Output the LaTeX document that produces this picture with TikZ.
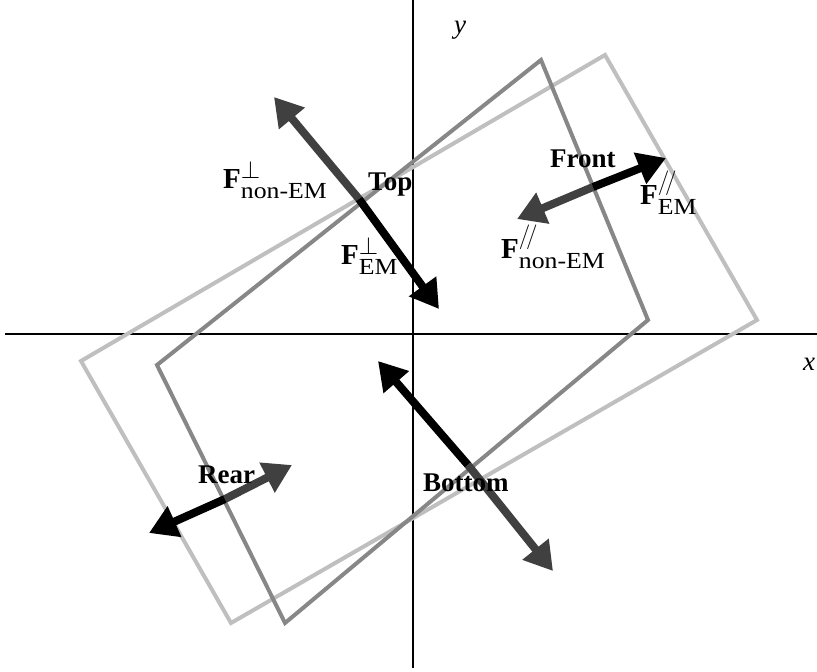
\documentclass[tikz,border=0pt]{standalone}
\usepackage{amsmath}
\usepackage{fontspec}
\setmainfont{Liberation Serif}
\newfontfamily\subfont[FakeStretch=1.12]{Liberation Serif}
\usetikzlibrary{arrows.meta}
\DeclareMathSizes{29}{29}{23}{18}

\begin{document}
\begin{tikzpicture}[x=1pt, y=-1pt,
    boxline/.style={line width=4pt, line join=miter},
    force/.style={line width=8pt, -{Triangle[length=28pt, width=32pt]}},
    part/.style={font=\fontsize{27}{30}\selectfont\bfseries, inner sep=0pt, anchor=base west},
    flabel/.style={font=\fontsize{29}{32}\selectfont, inner sep=0pt, anchor=base west}]
        \useasboundingbox (0,0) rectangle (817,672);

        % Draw axes
        \coordinate (xl) at (5,334);   \coordinate (xr) at (817,334);
        \coordinate (yb) at (413,668); \coordinate (yt) at (413,0);
        \draw[line width=1.3pt] (xl) -- (xr);
        \draw[line width=1.3pt] (yb) -- (yt);
        \node[flabel, font=\fontsize{27}{30}\selectfont\itshape] (ylab) at (454,33) {y};
        \node[flabel, font=\fontsize{27}{30}\selectfont\itshape] (xlab) at (803,370) {x};

        % ============================================================
        % Boxes - light one and dark one
        % ============================================================
        \coordinate (L1) at (605,55);  \coordinate (L2) at (757,320);
        \coordinate (L3) at (231,623); \coordinate (L4) at (81,361);
        \draw[boxline, black!25] (L1) -- (L2) -- (L3) -- (L4) -- cycle;

        \coordinate (D1) at (541,60);  \coordinate (D2) at (648,320);
        \coordinate (D3) at (285,623); \coordinate (D4) at (157,365);
        \draw[boxline, black!47] (D1) -- (D2) -- (D3) -- (D4) -- cycle;

        % ============================================================
        % TOP - perpendicular forces
        % ============================================================
        \coordinate (top) at (359,199);
        \coordinate (topnon) at (274,97);
        \coordinate (topem) at (439,309);
        \draw[force, black!75] (top) -- (topnon);
        \draw[force, black] (top) -- (topem);
        \node[part] (toplab) at (368,190) {Top};
        \node[flabel] (fpnon) at (223,188) {$\mathbf{F}^{\perp}_{\text{\subfont non-EM}}$};
        \node[flabel] (fpem) at (341,264) {$\mathbf{F}^{\perp}_{\text{\subfont EM}}$};

        % ============================================================
        % FRONT - parallel forces
        % ============================================================
        \coordinate (front) at (593,187);
        \coordinate (frontem) at (666,158);
        \coordinate (frontnon) at (517,219);
        \draw[force, black!75] (front) -- (frontnon);
        \draw[force, black] (front) -- (frontem);
        \node[part] (frontlab) at (550,167) {Front};
        \node[flabel] (fqem) at (640,204) {$\mathbf{F}^{/\!/}_{\text{\subfont EM}}$};
        \node[flabel] (fqnon) at (501,258) {$\mathbf{F}^{/\!/}_{\text{\subfont non-EM}}$};

        % ============================================================
        % BOTTOM
        % ============================================================
        \coordinate (bottom) at (468,465);
        \coordinate (bottomup) at (378,361);
        \coordinate (bottomdown) at (553,571);
        \draw[force, black] (bottom) -- (bottomup);
        \draw[force, black!75] (bottom) -- (bottomdown);
        \node[part] (bottomlab) at (423,491) {Bottom};

        % ============================================================
        % REAR
        % ============================================================
        \coordinate (rear) at (225,499);
        \coordinate (rearout) at (149,533);
        \coordinate (rearin) at (292,465);
        \draw[force, black] (rear) -- (rearout);
        \draw[force, black!75] (rear) -- (rearin);
        \node[part] (rearlab) at (198,483) {Rear};

    \end{tikzpicture}
\end{document}
